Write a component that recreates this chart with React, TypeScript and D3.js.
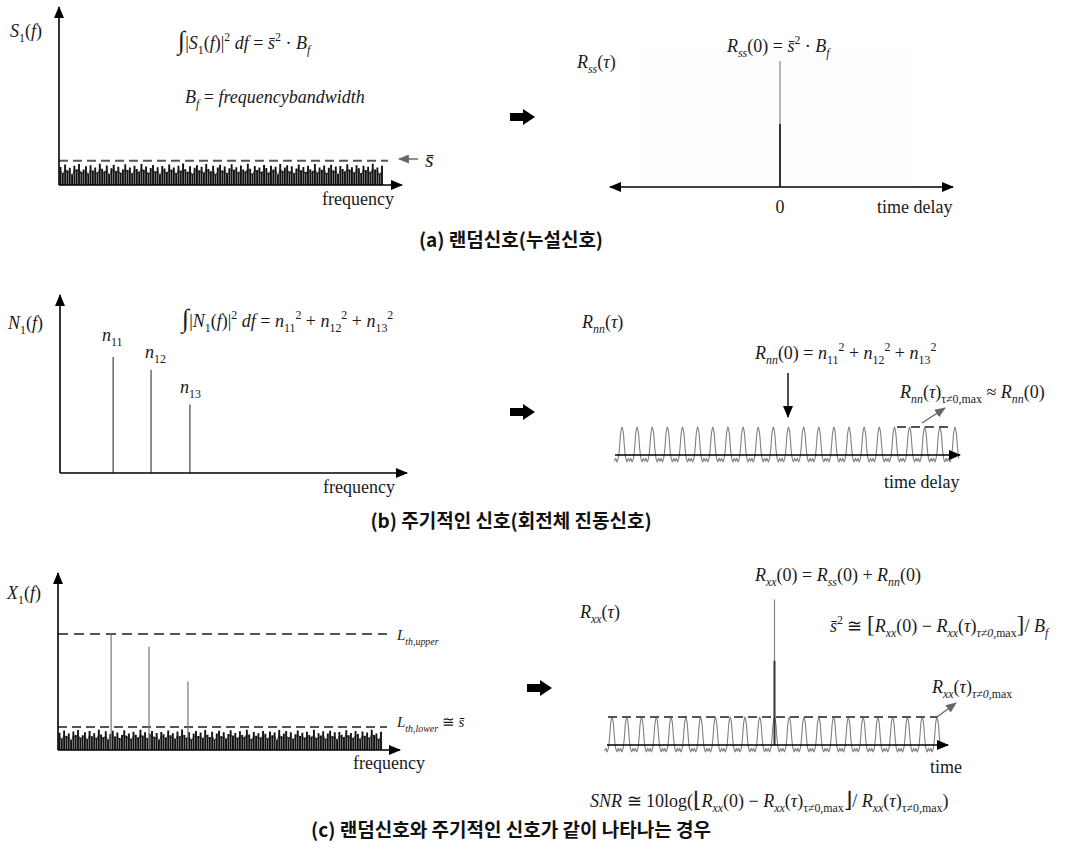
import * as d3 from "d3";

// spectrum noise floor (relative heights)
const noiseLevels = [
  0.82, 0.55, 0.93, 0.67, 0.78, 0.48, 0.88, 0.72, 0.95, 0.6,
  0.7, 0.85, 0.52, 0.9, 0.66, 0.8, 0.58, 0.97, 0.74, 0.62,
  0.89, 0.5, 0.76, 0.92, 0.64, 0.83, 0.57, 0.71, 0.94, 0.68,
  0.79, 0.53, 0.87, 0.73, 0.61, 0.96, 0.69, 0.84, 0.56, 0.77,
  0.91, 0.63, 0.81, 0.49, 0.86, 0.75, 0.59, 0.93, 0.7, 0.8,
  0.54, 0.88, 0.65, 0.98, 0.72, 0.6, 0.85, 0.51, 0.78, 0.9,
  0.67, 0.83, 0.57, 0.95, 0.73, 0.62, 0.87, 0.5, 0.79, 0.92,
  0.66, 0.84, 0.55, 0.76, 0.94, 0.69, 0.81, 0.58, 0.89, 0.71,
  0.63, 0.97, 0.74, 0.52, 0.86, 0.68, 0.8, 0.6, 0.91, 0.77,
  0.56, 0.88, 0.7, 0.83, 0.48, 0.95, 0.65, 0.79, 0.9, 0.61,
  0.85, 0.53, 0.75, 0.93, 0.67, 0.82, 0.59, 0.87, 0.72, 0.64,
  0.96, 0.57, 0.8, 0.69, 0.89, 0.54, 0.78, 0.92, 0.66, 0.84,
  0.5, 0.86, 0.73, 0.62, 0.94, 0.7, 0.81, 0.58, 0.9, 0.76,
  0.55, 0.88, 0.68, 0.83, 0.6, 0.97, 0.71, 0.79, 0.52, 0.87,
];
const sBarLevel = 1.1; // dashed s-bar line, in noise units

// harmonic lines n11, n12, n13
const harmonicFreqs = [16.4, 28.1, 40.1];
const harmonicAmps = [1.0, 0.89, 0.59];
const harmonicLabels = ["11", "12", "13"];

// one period of the autocorrelation of the periodic signal (peak first)
const periodShape = [1.0, 0.8, 0.25, -0.12, -0.25, -0.12, -0.22, -0.12, -0.25, -0.12, 0.25, 0.8];
const periodCount = 22; // 23 peaks
const rssZero = 4.5;
const rxxZero = 5.2;

const captions = [
  "(a) 랜덤신호(누설신호)",
  "(b) 주기적인 신호(회전체 진동신호)",
  "(c) 랜덤신호와 주기적인 신호가 같이 나타나는 경우",
];

const SERIF = "'Liberation Serif', 'DejaVu Serif', serif";
const KR = "'Noto Sans CJK KR', 'Noto Sans', sans-serif";

type Part = { t: string; s?: "sub" | "sup"; r?: boolean; k?: number };
const I = (t: string): Part => ({ t });
const R = (t: string, k?: number): Part => ({ t, r: true, k });
const Sb = (t: string, r = false): Part => ({ t, s: "sub", r });
const Sp = (t: string): Part => ({ t, s: "sup", r: true });
const SB = "s\u0304";

function MathText({ x, y, parts, size = 18, anchor = "start", fill = "#1a1a1a" }: any) {
  let prev = 0;
  return (
    <text x={x} y={y} fontFamily={SERIF} fontSize={size} textAnchor={anchor} fill={fill}>
      {parts.map((p: Part, i: number) => {
        const off = p.s === "sub" ? size * 0.3 : p.s === "sup" ? -size * 0.42 : 0;
        const dy = off - prev;
        prev = off;
        const fs = (p.s ? size * 0.66 : size) * (p.k ?? 1);
        return (
          <tspan key={i} dy={dy} fontSize={fs} fontStyle={p.r ? "normal" : "italic"}>
            {p.t}
          </tspan>
        );
      })}
    </text>
  );
}

function Spectrum({ ox, base, top, tip, noiseH, showNoise, showHarm, upper, harmColor }: any) {
  const fx = d3.scaleLinear().domain([0, 100]).range([ox, ox + 324]);
  const nx = d3.scaleLinear().domain([0, noiseLevels.length - 1]).range([ox + 1.5, ox + 323]);
  const ny = d3.scaleLinear().domain([0, 1]).range([base, base - noiseH]);
  const hy = d3.scaleLinear().domain([0, 1]).range([base, base - 116]);
  const noisePath = noiseLevels.map((v, i) => `M${nx(i)},${base}V${ny(v)}`).join("");
  const noiseTop = d3
    .line<number>()
    .x((_, i) => nx(i))
    .y((v) => ny(v * 0.8))(noiseLevels);
  return (
    <g>
      {showNoise && <path d={noisePath} stroke="#111" strokeWidth={1.9} fill="none" />}
      {showNoise && <path d={noiseTop || ""} stroke="#222" strokeWidth={0.8} fill="none" />}
      {showNoise && (
        <line x1={ox} x2={ox + 329} y1={ny(sBarLevel)} y2={ny(sBarLevel)} stroke="#555" strokeWidth={2} strokeDasharray="9 5" />
      )}
      {upper && (
        <line x1={ox} x2={ox + 329} y1={hy(1)} y2={hy(1)} stroke="#555" strokeWidth={2} strokeDasharray="10 6" />
      )}
      {showHarm &&
        harmonicFreqs.map((f, i) => (
          <line key={i} x1={fx(f)} x2={fx(f)} y1={base} y2={hy(harmonicAmps[i])} stroke={harmColor} strokeWidth={1.2} />
        ))}
      <line x1={ox} y1={base} x2={ox} y2={top} stroke="#000" strokeWidth={1.6} markerEnd="url(#ah)" />
      <line x1={ox} y1={base} x2={tip} y2={base} stroke="#000" strokeWidth={1.6} markerEnd="url(#ah)" />
    </g>
  );
}

function AutoCorr({ x0, tip, axisY, p0, p1, periodic, spike, split, dash, twoSided }: any) {
  const L = periodShape.length;
  const n = periodCount * L;
  const sx = d3.scaleLinear().domain([0, n]).range([p0, p1]);
  const sy = d3.scaleLinear().domain([0, 1]).range([axisY, axisY - 28]);
  const idx = d3.range(-6, n + 4);
  const line = d3
    .line<number>()
    .x((i) => sx(i))
    .y((i) => sy(periodShape[((i % L) + L) % L]))
    .curve(d3.curveCatmullRom);
  const cx = sx(n / 2);
  return (
    <g>
      {periodic && <path d={line(idx) || ""} fill="none" stroke="#808080" strokeWidth={1.1} />}
      {dash && <line x1={dash[0]} x2={dash[1]} y1={sy(1)} y2={sy(1)} stroke="#555" strokeWidth={2} strokeDasharray="9 5" />}
      {spike && (
        <g>
          <line x1={cx} x2={cx} y1={sy(0)} y2={sy(spike * split)} stroke="#333" strokeWidth={2} />
          <line x1={cx} x2={cx} y1={sy(spike * split)} y2={sy(spike)} stroke="#888" strokeWidth={1.2} />
        </g>
      )}
      <line
        x1={x0}
        x2={tip}
        y1={axisY}
        y2={axisY}
        stroke="#000"
        strokeWidth={1.6}
        markerEnd="url(#ah)"
        markerStart={twoSided ? "url(#ah)" : undefined}
      />
    </g>
  );
}

function BlockArrow({ x, y }: any) {
  const pts = [
    [x, y - 4], [x + 13, y - 4], [x + 13, y - 8], [x + 25, y],
    [x + 13, y + 8], [x + 13, y + 4], [x, y + 4],
  ];
  return <polygon points={pts.map((p) => p.join(",")).join(" ")} fill="#000" />;
}

export default function App() {
  return (
    <svg width={1065} height={849} style={{ position: "absolute", left: 0, top: 0, background: "#fff" }}>
      <defs>
        <marker id="ah" viewBox="0 0 12 10" refX={11} refY={5} markerWidth={12} markerHeight={10} markerUnits="userSpaceOnUse" orient="auto-start-reverse">
          <path d="M0,0 L12,5 L0,10 z" fill="#000" />
        </marker>
        <marker id="ahg" viewBox="0 0 12 10" refX={11} refY={5} markerWidth={11} markerHeight={9} markerUnits="userSpaceOnUse" orient="auto">
          <path d="M0,0 L12,5 L0,10 z" fill="#666" />
        </marker>
      </defs>
      <rect width={1065} height={849} fill="#fff" />

      {/* ---------- (a) ---------- */}
      <Spectrum ox={59} base={185} top={7} tip={402} noiseH={22} showNoise />
      <MathText x={10} y={37} parts={[I("S"), Sb("1", true), R("("), I("f"), R(")")]} />
      <MathText
        x={178}
        y={49}
        parts={[R("∫", 1.45), R("|"), I("S"), Sb("1", true), R("("), I("f"), R(")|"), Sp("2"), I(" df"), R(" = "), I(SB), Sp("2"), R(" · "), I("B"), Sb("f")]}
      />
      <MathText x={185} y={103} parts={[I("B"), Sb("f"), R(" = "), I("frequencybandwidth")]} />
      <MathText x={322} y={205} parts={[R("frequency")]} />
      <line x1={418} x2={399} y1={159} y2={159} stroke="#444" strokeWidth={1.2} markerEnd="url(#ahg)" />
      <MathText x={425} y={167} size={22} parts={[I(SB)]} />

      <rect x={640} y={50} width={274} height={137} fill="#fdfdfd" />
      <AutoCorr x0={610} tip={953} axisY={187} p0={613} p1={947} spike={rssZero} split={0.5} twoSided />
      <MathText x={577} y={68} parts={[I("R"), Sb("ss"), R("("), I("τ"), R(")")]} />
      <MathText x={727} y={52} parts={[I("R"), Sb("ss"), R("(0) = "), I(SB), Sp("2"), R(" · "), I("B"), Sb("f")]} />
      <MathText x={780} y={213} anchor="middle" parts={[R("0")]} />
      <MathText x={877} y={213} parts={[R("time delay")]} />
      <BlockArrow x={510} y={117} />

      {/* ---------- (b) ---------- */}
      <Spectrum ox={60} base={473} top={295} tip={407} showHarm harmColor="#444" />
      <MathText x={8} y={329} parts={[I("N"), Sb("1", true), R("("), I("f"), R(")")]} />
      <MathText
        x={182}
        y={327}
        parts={[
          R("∫", 1.45), R("|"), I("N"), Sb("1", true), R("("), I("f"), R(")|"), Sp("2"), I(" df"), R(" = "),
          I("n"), Sb("11", true), Sp("2"), R(" + "), I("n"), Sb("12", true), Sp("2"), R(" + "), I("n"), Sb("13", true), Sp("2"),
        ]}
      />
      {harmonicLabels.map((l, i) => (
        <MathText key={l} x={[102, 145, 180][i]} y={[341, 358, 393][i]} parts={[I("n"), Sb(l, true)]} />
      ))}
      <MathText x={323} y={493} parts={[R("frequency")]} />

      <AutoCorr x0={615} tip={960} axisY={455} p0={622} p1={955} periodic dash={[897, 950]} />
      <MathText x={582} y={328} parts={[I("R"), Sb("nn"), R("("), I("τ"), R(")")]} />
      <MathText
        x={755}
        y={359}
        parts={[I("R"), Sb("nn"), R("(0) = "), I("n"), Sb("11", true), Sp("2"), R(" + "), I("n"), Sb("12", true), Sp("2"), R(" + "), I("n"), Sb("13", true), Sp("2")]}
      />
      <line x1={788} x2={788} y1={373} y2={417} stroke="#222" strokeWidth={1.6} markerEnd="url(#ah)" />
      <line x1={922} x2={945} y1={423} y2={408} stroke="#666" strokeWidth={1.4} markerEnd="url(#ahg)" />
      <MathText
        x={900}
        y={398}
        parts={[I("R"), Sb("nn"), R("("), I("τ"), R(")"), Sb("τ≠0,max", true), R(" ≈ "), I("R"), Sb("nn"), R("(0)")]}
      />
      <MathText x={884} y={488} parts={[R("time delay")]} />
      <BlockArrow x={510} y={412} />

      {/* ---------- (c) ---------- */}
      <Spectrum ox={58} base={750} top={573} tip={400} noiseH={21} showNoise showHarm upper harmColor="#777" />
      <MathText x={7} y={599} parts={[I("X"), Sb("1", true), R("("), I("f"), R(")")]} />
      <MathText x={397} y={640} size={15} parts={[I("L"), Sb("th,upper")]} />
      <MathText x={397} y={727} size={15} parts={[I("L"), Sb("th,lower"), R(" ≅ "), I(SB)]} />
      <MathText x={353} y={769} parts={[R("frequency")]} />

      <AutoCorr x0={607} tip={948} axisY={745} p0={612} p1={937} periodic spike={rxxZero} split={0.58} dash={[608, 937]} />
      <MathText x={755} y={581} parts={[I("R"), Sb("xx"), R("(0) = "), I("R"), Sb("ss"), R("(0) + "), I("R"), Sb("nn"), R("(0)")]} />
      <MathText x={580} y={618} parts={[I("R"), Sb("xx"), R("("), I("τ"), R(")")]} />
      <MathText
        x={830}
        y={632}
        parts={[I(SB), Sp("2"), R(" ≅ "), R("[", 1.3), I("R"), Sb("xx"), R("(0) − "), I("R"), Sb("xx"), R("("), I("τ"), R(")"), Sb("τ≠0,", false), Sb("max", true), R("]", 1.3), R("/ "), I("B"), Sb("f")]}
      />
      <line x1={937} x2={956} y1={717} y2={703} stroke="#666" strokeWidth={1.4} markerEnd="url(#ahg)" />
      <MathText x={932} y={693} parts={[I("R"), Sb("xx"), R("("), I("τ"), R(")"), Sb("τ≠0,", false), Sb("max", true)]} />
      <MathText x={930} y={773} parts={[R("time")]} />
      <MathText
        x={590}
        y={807}
        parts={[
          I("SNR"), R(" ≅ 10log("), R("⌊", 1.2), I("R"), Sb("xx"), R("(0) − "), I("R"), Sb("xx"), R("("), I("τ"), R(")"), Sb("τ≠0,max", true),
          R("⌋", 1.2), R("/ "), I("R"), Sb("xx"), R("("), I("τ"), R(")"), Sb("τ≠0,max", true), R(")"),
        ]}
      />
      <BlockArrow x={527} y={688} />

      {/* captions */}
      {captions.map((c, i) => (
        <text key={i} x={511} y={[247, 528, 837][i]} textAnchor="middle" fontFamily={KR} fontSize={19} fontWeight={700} fill="#111">
          {c}
        </text>
      ))}
    </svg>
  );
}
